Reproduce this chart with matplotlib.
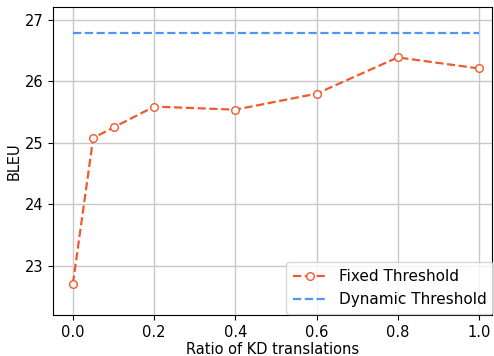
import numpy as np
import matplotlib
matplotlib.use("Agg")
import matplotlib.pyplot as plt

ratios = [0.0, 0.05, 0.1, 0.2, 0.4, 0.6, 0.8, 1.0]
fixed_bleu = [22.71, 25.08, 25.25, 25.59, 25.54, 25.80, 26.39, 26.21]
dynamic_bleu = [26.79] * len(ratios)
xticks = [0.0, 0.2, 0.4, 0.6, 0.8, 1.0]
yticks = [23, 24, 25, 26, 27]

fig = plt.figure(figsize=(4.94, 3.56), dpi=100)
ax = fig.add_axes([53 / 494, 41 / 356, 439 / 494, 308 / 356])

ax.plot(ratios, fixed_bleu, '--o', color='#f05a2f', markerfacecolor='white',
        markersize=5.5, linewidth=1.6, label='Fixed Threshold')
ax.plot(ratios, dynamic_bleu, '--', color='#4f95f5', linewidth=1.6,
        label='Dynamic Threshold')

ax.set_xlim(-0.049, 1.032)
ax.set_ylim(22.2, 27.21)
ax.set_xticks(xticks)
ax.set_yticks(yticks)
ax.tick_params(labelsize=10.5)
ax.grid(True, color='#c8c8c8', linewidth=1)
ax.set_axisbelow(True)
ax.set_xlabel('Ratio of KD translations', fontsize=10.5, labelpad=2)
ax.set_ylabel('BLEU', fontsize=10.5, labelpad=2)

ax.legend(loc='lower right', fontsize=11, bbox_to_anchor=(1.003, 0.004),
          borderaxespad=0, borderpad=0.45, handlelength=2.2)

fig.savefig("out.png", dpi=100)
